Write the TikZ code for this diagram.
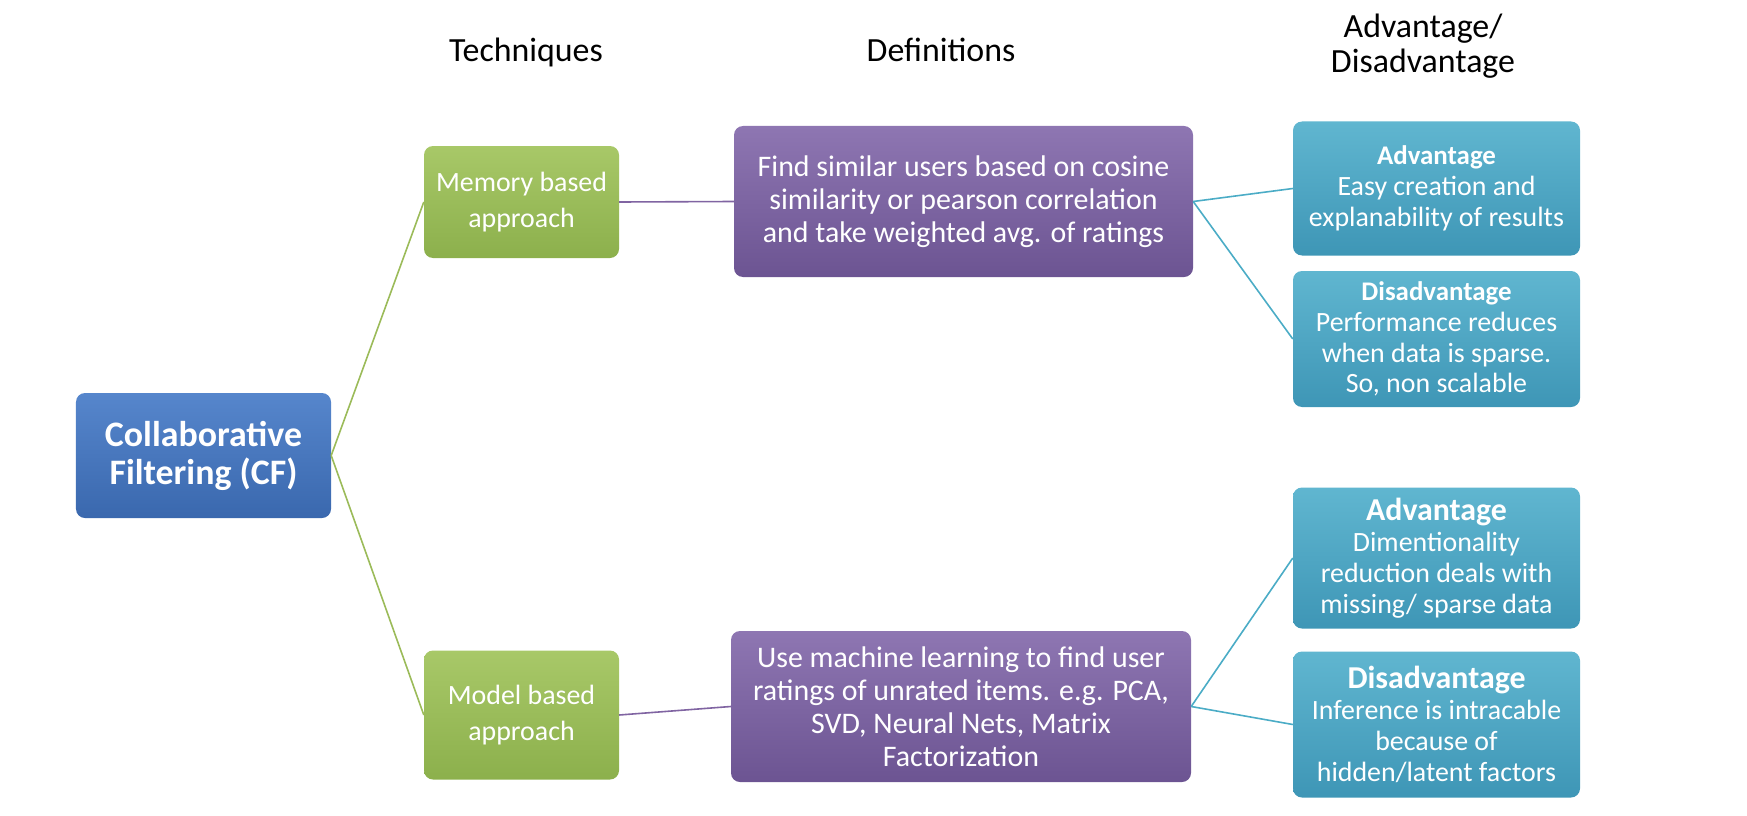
\documentclass[tikz,border=0pt]{standalone}
\usepackage{fontspec}
\setmainfont{Carlito}
\usepackage{xcolor}
\usepackage{tikz}

\definecolor{cfTop}{RGB}{86,134,204}
\definecolor{cfBot}{RGB}{58,104,174}
\definecolor{grTop}{RGB}{168,200,104}
\definecolor{grBot}{RGB}{140,176,76}
\definecolor{puTop}{RGB}{142,118,178}
\definecolor{puBot}{RGB}{108,84,146}
\definecolor{teTop}{RGB}{96,182,208}
\definecolor{teBot}{RGB}{62,150,182}
\definecolor{grLine}{RGB}{155,187,89}
\definecolor{puLine}{RGB}{128,100,162}
\definecolor{teLine}{RGB}{75,172,198}

\newcommand{\bighead}[1]{{\fontsize{32}{32}\selectfont\textbf{#1}}}
\newcommand{\smallhead}[1]{{\fontsize{27}{29}\selectfont\textbf{#1}}}

\begin{document}
\begin{tikzpicture}[x=1bp, y=-1bp,
  box/.style={rounded corners=9bp, text=white, align=center, inner sep=0pt},
  cfbox/.style={box, top color=cfTop, bottom color=cfBot, font=\fontsize{36}{38}\selectfont\bfseries},
  techbox/.style={box, top color=grTop, bottom color=grBot, font=\fontsize{28}{37}\selectfont},
  defbox/.style={box, top color=puTop, bottom color=puBot, font=\fontsize{30}{33}\selectfont},
  probox/.style={box, top color=teTop, bottom color=teBot, font=\fontsize{28}{31}\selectfont,
    minimum width=287bp},
  head/.style={align=center, font=\fontsize{34}{35}\selectfont},
  link/.style={line width=1.6bp}
]
  \useasboundingbox (0,0) rectangle (1747,816);

  % Column headings
  \node[head] (hTech) at (526,52) {Techniques};
  \node[head] (hDef) at (941,50) {Definitions};
  \node[head] (hPro) at (1423,46) {Advantage/\\Disadvantage};

  % Root
  \node[cfbox, minimum width=255bp, minimum height=125bp] (cf) at (203.5,455.5)
    {Collaborative\\Filtering (CF)};

  % Techniques
  \node[techbox, minimum width=195bp, minimum height=112bp] (mem) at (521.5,202)
    {Memory based\\approach};
  \node[techbox, minimum width=195bp, minimum height=129bp] (mod) at (521.5,715)
    {Model based\\approach};

  % Definitions
  \node[defbox, minimum width=459bp, minimum height=151bp] (memDef) at (963.5,201.5)
    {Find similar users based on cosine\\similarity or pearson correlation\\and take weighted avg. of ratings};
  \node[defbox, minimum width=460bp, minimum height=151bp] (modDef) at (961,706.5)
    {Use machine learning to find user\\ratings of unrated items. e.g. PCA,\\SVD, Neural Nets, Matrix\\Factorization};

  % Advantages / disadvantages
  \node[probox, minimum height=134bp] (memAdv) at (1436.5,188.5)
    {\smallhead{Advantage}\\Easy creation and\\explanability of results};
  \node[probox, minimum height=136bp] (memDis) at (1436.5,339)
    {\smallhead{Disadvantage}\\Performance reduces\\when data is sparse.\\So, non scalable};
  \node[probox, minimum height=141bp] (modAdv) at (1436.5,558)
    {\bighead{Advantage}\\Dimentionality\\reduction deals with\\missing/ sparse data};
  \node[probox, minimum height=146bp] (modDis) at (1436.5,724.5)
    {\bighead{Disadvantage}\\Inference is intracable\\because of\\hidden/latent factors};

  % Connectors
  \draw[link, grLine] (cf.east) -- (mem.west);
  \draw[link, grLine] (cf.east) -- (mod.west);
  \draw[link, puLine] (mem.east) -- (memDef.west);
  \draw[link, puLine] (mod.east) -- (modDef.west);
  \draw[link, teLine] (memDef.east) -- (memAdv.west);
  \draw[link, teLine] (memDef.east) -- (memDis.west);
  \draw[link, teLine] (modDef.east) -- (modAdv.west);
  \draw[link, teLine] (modDef.east) -- (modDis.west);
\end{tikzpicture}
\end{document}
